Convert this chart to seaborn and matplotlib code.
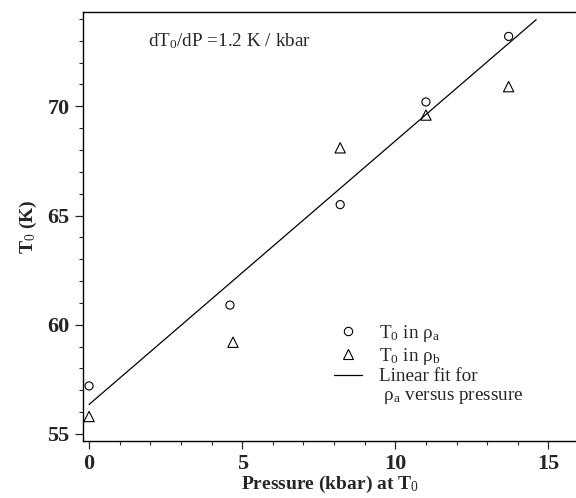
import numpy as np
import matplotlib
matplotlib.use("Agg")
import matplotlib.pyplot as plt
from matplotlib.lines import Line2D
from matplotlib.ticker import MultipleLocator
import seaborn as sns

# Data
pressure_a = [0.0, 4.6, 8.2, 11.0, 13.7]
t0_a = [57.2, 60.9, 65.5, 70.2, 73.2]
pressure_b = [0.0, 4.7, 8.2, 11.0, 13.7]
t0_b = [55.8, 59.2, 68.1, 69.6, 70.9]
fit_range = [0.0, 14.6]

sns.set_style("ticks")
plt.rcParams["font.family"] = ["Liberation Serif", "DejaVu Serif"]
plt.rcParams["mathtext.fontset"] = "custom"
plt.rcParams["mathtext.rm"] = "Liberation Serif"
plt.rcParams["mathtext.it"] = "Liberation Serif:italic"
plt.rcParams["mathtext.bf"] = "Liberation Serif:bold"

fig = plt.figure(figsize=(5.76, 4.98), dpi=100)
ax = fig.add_axes([0.144, 0.1145, 0.856, 0.8615])

# linear fit of T0 in rho_a vs pressure
slope, intercept = np.polyfit(pressure_a, t0_a, 1)
fit_x = np.array(fit_range)
fit_y = slope * fit_x + intercept

sns.scatterplot(x=pressure_a, y=t0_a, marker="o", s=34, facecolor="none",
                edgecolor="black", linewidth=0.8, ax=ax)
sns.scatterplot(x=pressure_b, y=t0_b, marker="^", s=55, facecolor="none",
                edgecolor="black", linewidth=0.8, ax=ax)
sns.lineplot(x=fit_x, y=fit_y, color="black", linewidth=0.9, ax=ax)

ax.set_xlim(-0.2, 15.9)
ax.set_ylim(54.68, 74.32)
ax.xaxis.set_major_locator(MultipleLocator(5))
ax.xaxis.set_minor_locator(MultipleLocator(1))
ax.yaxis.set_major_locator(MultipleLocator(5))
ax.yaxis.set_minor_locator(MultipleLocator(1))
ax.tick_params(which="major", length=6, width=0.9, labelsize=16, direction="out")
ax.tick_params(which="minor", length=3, width=0.8, direction="out")
for lbl in ax.get_xticklabels() + ax.get_yticklabels():
    lbl.set_fontweight("bold")
ax.spines["right"].set_visible(False)
for sp in ["left", "top", "bottom"]:
    ax.spines[sp].set_linewidth(1.0)
    ax.spines[sp].set_color("black")

ax.set_xlabel("Pressure (kbar) at T$_0$", fontsize=14, fontweight="bold", labelpad=0)
ax.set_ylabel("T$_0$ (K)", fontsize=14, fontweight="bold", labelpad=6)

ax.text(0.132, 0.955, "dT$_0$/dP =1.2 K / kbar", transform=ax.transAxes,
        fontsize=13.8, ha="left", va="top")

handles = [
    Line2D([], [], marker="o", ls="none", mfc="none", mec="black", ms=6, mew=0.8),
    Line2D([], [], marker="^", ls="none", mfc="none", mec="black", ms=7, mew=0.8),
    Line2D([], [], color="black", lw=0.9),
    Line2D([], [], ls="none"),
]
labels = ["T$_0$ in ρ$_\\mathrm{a}$", "T$_0$ in ρ$_\\mathrm{b}$",
          "Linear fit for", " ρ$_\\mathrm{a}$ versus pressure"]
ax.legend(handles, labels, loc="upper left", bbox_to_anchor=(0.51, 0.275),
          frameon=False, fontsize=13.8, handlelength=1.45, handletextpad=0.9,
          labelspacing=0.08, borderaxespad=0, borderpad=0)

fig.savefig("out.png", dpi=100)
